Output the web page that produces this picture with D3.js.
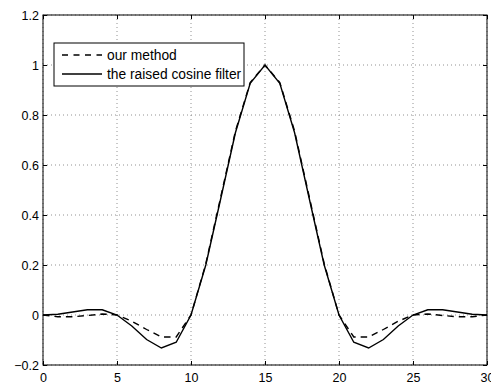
<!DOCTYPE html>
<html>
<head>
<meta charset="utf-8">
<script src="https://cdn.jsdelivr.net/npm/d3@7"></script>
<style>
  body { margin: 0; background: #fff; }
  text { font-family: "Liberation Sans", Arial, sans-serif; fill: #000; }
</style>
</head>
<body>
<div id="chart"></div>
<script>
// sample index n = 0..30
const samples = d3.range(0, 31);

// raised cosine filter (solid)
const raisedCosine = [
  0, 0.003, 0.012, 0.021, 0.021, 0, -0.044, -0.098, -0.132, -0.109,
  0, 0.2, 0.463, 0.729, 0.927, 1, 0.927, 0.729, 0.463, 0.2,
  0, -0.109, -0.132, -0.098, -0.044, 0, 0.021, 0.021, 0.012, 0.003, 0
];

// our method (dashed)
const ourMethod = [
  0, -0.007, -0.007, -0.002, 0.004, 0, -0.025, -0.058, -0.088, -0.088,
  0, 0.205, 0.47, 0.735, 0.93, 1, 0.93, 0.735, 0.47, 0.205,
  0, -0.088, -0.088, -0.058, -0.025, 0, 0.004, -0.002, -0.007, -0.007, 0
];

const xTicks = [0, 5, 10, 15, 20, 25, 30];
const yTicks = [-0.2, 0, 0.2, 0.4, 0.6, 0.8, 1, 1.2];

const legendLabels = ["our method", "the raised cosine filter"];

const margin = { top: 15, right: 4, bottom: 20, left: 43 };
const width = 491 - margin.left - margin.right;
const height = 385 - margin.top - margin.bottom;

const svg = d3
  .select("#chart")
  .append("svg")
  .attr("width", 491)
  .attr("height", 385)
  .append("g")
  .attr("transform", "translate(" + margin.left + "," + margin.top + ")");

const xScale = d3.scaleLinear().domain([0, 30]).range([0, width]);
const yScale = d3.scaleLinear().domain([-0.2, 1.2]).range([height, 0]);

// dotted grid
svg
  .selectAll(".gx")
  .data(xTicks)
  .enter()
  .append("line")
  .attr("x1", (d) => xScale(d))
  .attr("x2", (d) => xScale(d))
  .attr("y1", 0)
  .attr("y2", height)
  .attr("stroke", "#777")
  .attr("stroke-width", 0.8)
  .attr("stroke-dasharray", "1,3");

svg
  .selectAll(".gy")
  .data(yTicks)
  .enter()
  .append("line")
  .attr("x1", 0)
  .attr("x2", width)
  .attr("y1", (d) => yScale(d))
  .attr("y2", (d) => yScale(d))
  .attr("stroke", "#777")
  .attr("stroke-width", 0.8)
  .attr("stroke-dasharray", "1,3");

// axes, matlab style: ticks pointing inward
const xAxis = d3.axisBottom(xScale).tickValues(xTicks).tickSizeInner(-4).tickSizeOuter(0).tickPadding(8);
const yAxis = d3.axisLeft(yScale).tickValues(yTicks).tickSizeInner(-4).tickSizeOuter(0).tickPadding(4);

const gX = svg.append("g").attr("class", "axis x-axis").attr("transform", "translate(0," + height + ")").call(xAxis);
const gY = svg.append("g").attr("class", "axis y-axis").call(yAxis);
svg.append("g")
  .call(d3.axisTop(xScale).tickValues(xTicks).tickSizeInner(-4).tickSizeOuter(0).tickFormat(""));
svg.append("g").attr("transform", "translate(" + width + ",0)")
  .call(d3.axisRight(yScale).tickValues(yTicks).tickSizeInner(-4).tickSizeOuter(0).tickFormat(""));

svg.selectAll(".domain").remove();
svg.selectAll(".tick line").attr("stroke", "#000");
svg.selectAll(".tick text").attr("font-size", "12.5px").attr("fill", "#000");
gY.selectAll(".tick text").each(function (d) {
  d3.select(this).text(d < 0 ? "\u2212" + Math.abs(d) : d === 0 ? "0" : String(+d.toFixed(1)));
});

svg
  .append("rect")
  .attr("width", width)
  .attr("height", height)
  .attr("fill", "none")
  .attr("stroke", "#000")
  .attr("stroke-width", 1);

const line = d3
  .line()
  .x((_, i) => xScale(samples[i]))
  .y((d) => yScale(d));

svg
  .append("path")
  .datum(raisedCosine)
  .attr("d", line)
  .attr("fill", "none")
  .attr("stroke", "#000")
  .attr("stroke-width", 1.4);

svg
  .append("path")
  .datum(ourMethod)
  .attr("d", line)
  .attr("fill", "none")
  .attr("stroke", "#000")
  .attr("stroke-width", 1.4)
  .attr("stroke-dasharray", "6.5,5");

// legend
const legend = svg.append("g").attr("transform", "translate(11,28)");
legend
  .append("rect")
  .attr("width", 190)
  .attr("height", 43)
  .attr("fill", "#fff")
  .attr("stroke", "#000")
  .attr("stroke-width", 1);

legend
  .selectAll(".lg")
  .data(legendLabels)
  .enter()
  .append("line")
  .attr("x1", 8)
  .attr("x2", 48)
  .attr("y1", (_, i) => 12 + i * 19)
  .attr("y2", (_, i) => 12 + i * 19)
  .attr("stroke", "#000")
  .attr("stroke-width", 1.4)
  .attr("stroke-dasharray", (_, i) => (i === 0 ? "6,5.5" : null));

legend
  .selectAll(".lt")
  .data(legendLabels)
  .enter()
  .append("text")
  .attr("x", 53)
  .attr("y", (_, i) => 12 + i * 19)
  .attr("dy", "0.35em")
  .attr("font-size", "13.8px")
  .text((d) => d);
</script>
</body>
</html>
